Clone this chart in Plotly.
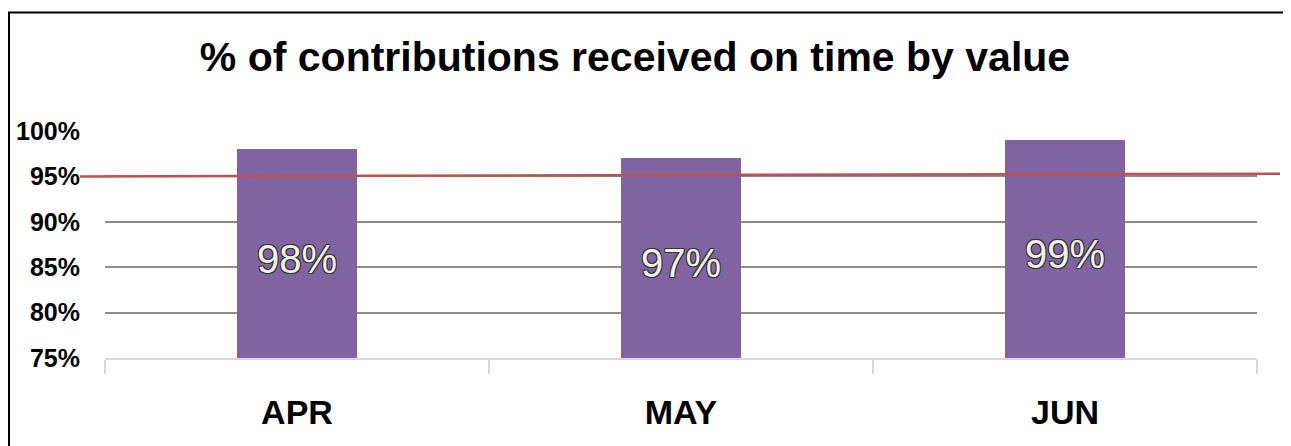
import plotly.graph_objects as go

months = ["APR", "MAY", "JUN"]
on_time_pct = [98, 97, 99]
label_text = ["98%", "97%", "99%"]
target_start = 95.0
target_end = 95.3
y_min, y_max = 75, 100
y_ticks = [75, 80, 85, 90, 95, 100]
y_tick_text = ["75%", "80%", "85%", "90%", "95%", "100%"]

# page pixels (the page body adds an 8px offset)
O = 8
PAGE_W, PAGE_H = 1291, 446
W, H = PAGE_W - O, PAGE_H - O
plot_left, plot_right, plot_top, plot_bottom = 105, 1257, 131, 358
L, R, T, B = plot_left - O, PAGE_W - plot_right, plot_top - O, PAGE_H - plot_bottom
pw = plot_right - plot_left
ph = plot_bottom - plot_top

def px_x(x):
    return (x - plot_left) / pw

def px_y(y):
    return (plot_bottom - y) / ph

fig = go.Figure()
fig.add_trace(go.Bar(
    x=months, y=on_time_pct,
    marker=dict(color="#8064A2", line=dict(width=0)),
    width=0.3125,
    hoverinfo="skip",
))

# value labels centred in the visible part of each bar
for m, v, t in zip(months, on_time_pct, label_text):
    fig.add_annotation(
        x=m, y=(v + y_min) / 2, text=t, showarrow=False, yshift=-5,
        font=dict(family="Liberation Sans", size=40, color="#F4F1E6",
                  shadow="1px 1px 0 #333, -1px -1px 0 #333, 1px -1px 0 #333, -1px 1px 0 #333"),
    )

fig.update_layout(
    width=W, height=H,
    margin=dict(l=L, r=R, t=T, b=B, autoexpand=False),
    paper_bgcolor="white", plot_bgcolor="white",
    showlegend=False,
    title=dict(text="<b>% of contributions received on time by value</b>",
               x=(635 - O) / W, xref="container", xanchor="center",
               y=1 - (57 - O) / H, yref="container", yanchor="middle",
               font=dict(family="Liberation Sans", size=41, color="black")),
    xaxis=dict(showgrid=False, showline=True, linecolor="#D9D9D9", linewidth=2,
               ticks="outside", tickson="boundaries", ticklen=14, tickwidth=2,
               tickcolor="#D9D9D9", ticklabelstandoff=23, automargin=False,
               tickfont=dict(family="Liberation Sans", size=34, color="black", weight="bold")),
    yaxis=dict(range=[y_min, y_max], tickvals=y_ticks, ticktext=y_tick_text,
               showgrid=True, gridcolor="#8C8C8C", gridwidth=1.5, automargin=False,
               zeroline=False, showline=False, ticks="", ticklabelstandoff=24,
               tickfont=dict(family="Liberation Sans", size=25, color="black", weight="bold")),
    bargap=0,
)

fig.add_shape(type="line", xref="paper", yref="y",
              x0=px_x(80), x1=px_x(1280), y0=target_start, y1=target_end,
              line=dict(color="#C0504D", width=2.5), layer="above")

fig.add_shape(type="rect", xref="paper", yref="paper",
              x0=px_x(9), x1=px_x(1310), y0=px_y(12.5), y1=px_y(470),
              line=dict(color="black", width=2), fillcolor="rgba(0,0,0,0)", layer="above")

fig.write_html("out.html")
